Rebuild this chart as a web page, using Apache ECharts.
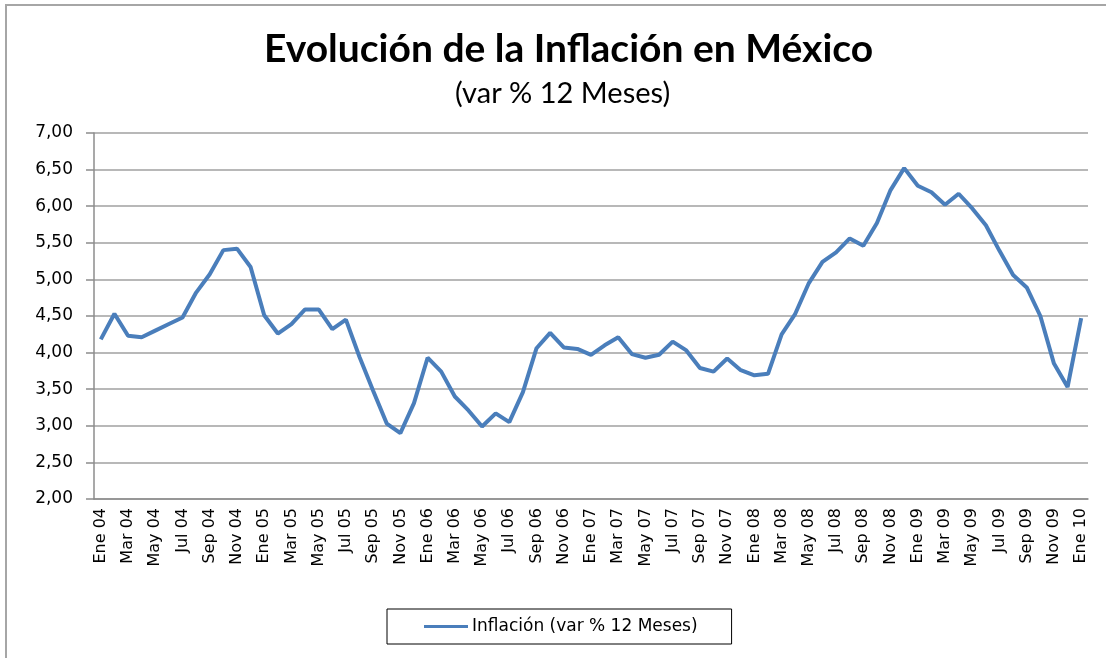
<!DOCTYPE html>
<html>
<head>
<meta charset="utf-8">
<title>Evolución de la Inflación en México</title>
<script src="https://cdn.jsdelivr.net/npm/echarts@6/dist/echarts.min.js"></script>
<style>
  html, body { margin: 0; padding: 0; background: #fff; }
  #chart { width: 1106px; height: 658px; }
</style>
</head>
<body>
<div id="chart"></div>
<script>
// meses y años del eje X
const meses = ["Ene", "Feb", "Mar", "Abr", "May", "Jun", "Jul", "Ago", "Sep", "Oct", "Nov", "Dic"];
const anios = ["04", "05", "06", "07", "08", "09", "10"];

// inflación anual (var % 12 meses), ene 2004 - ene 2010
const inflacion = [
  4.18, 4.53, 4.23, 4.21, 4.30, 4.39, 4.48, 4.82, 5.07, 5.40, 5.42, 5.17,
  4.51, 4.26, 4.39, 4.59, 4.59, 4.32, 4.45, 3.94, 3.48, 3.03, 2.90, 3.31,
  3.93, 3.74, 3.40, 3.21, 2.99, 3.17, 3.05, 3.46, 4.06, 4.27, 4.07, 4.05,
  3.97, 4.10, 4.21, 3.98, 3.93, 3.97, 4.15, 4.03, 3.79, 3.74, 3.92, 3.76,
  3.69, 3.71, 4.25, 4.53, 4.95, 5.24, 5.37, 5.56, 5.46, 5.77, 6.22, 6.52,
  6.28, 6.19, 6.02, 6.17, 5.97, 5.74, 5.39, 5.06, 4.89, 4.50, 3.85, 3.53,
  4.47
];

const yMin = 2, yMax = 7, yPaso = 0.5;

const categorias = [];
for (let i = 0; i < inflacion.length; i++) {
  categorias.push(meses[i % 12] + " " + anios[Math.floor(i / 12)]);
}

const myChart = echarts.init(document.getElementById("chart"));
const option = {
  backgroundColor: "#fff",
  animation: false,
  title: [
    {
      text: "Evolución de la Inflación en México",
      left: 259,
      top: 25,
      textStyle: { fontFamily: "Lato", fontWeight: "bold", fontSize: 39, color: "#000" },
    },
    {
      text: "(var % 12 Meses)",
      left: 450,
      top: 74,
      textStyle: { fontFamily: "Lato", fontWeight: "normal", fontSize: 29, color: "#000" },
    },
  ],
  graphic: [
    {
      // marco del gráfico
      type: "rect",
      shape: { x: 6, y: 5, width: 1200, height: 800 },
      style: { fill: "none", stroke: "#a6a6a6", lineWidth: 2 },
      silent: true,
    },
  ],
  legend: {
    data: ["Inflación (var % 12 Meses)"],
    left: 387,
    top: 609,
    padding: [9, 34, 9, 37],
    borderColor: "#000",
    borderWidth: 1,
    icon: "rect",
    itemWidth: 44,
    itemHeight: 3,
    textStyle: { fontFamily: "DejaVu Sans", fontSize: 17, color: "#000", padding: [0, 0, 0, -1] },
  },
  grid: {
    left: 94,
    right: 18,
    top: 133,
    bottom: 159,
    containLabel: false,
  },
  xAxis: {
    type: "category",
    boundaryGap: true,
    data: categorias,
    axisLine: { lineStyle: { color: "#8c8c8c", width: 1.5 } },
    axisTick: { interval: 0, length: 6, lineStyle: { color: "#8c8c8c", width: 1.5 } },
    axisLabel: {
      interval: 1,
      rotate: 90,
      margin: 9,
      fontFamily: "DejaVu Sans",
      fontSize: 16,
      color: "#000",
    },
  },
  yAxis: {
    type: "value",
    min: yMin,
    max: yMax,
    interval: yPaso,
    axisLine: { show: true, lineStyle: { color: "#8c8c8c", width: 1.5 } },
    axisTick: { show: true, length: 8, lineStyle: { color: "#8c8c8c", width: 1.5 } },
    splitLine: { lineStyle: { color: "#a0a0a0", width: 1.5 } },
    axisLabel: {
      margin: 21,
      fontFamily: "DejaVu Sans",
      fontSize: 17,
      color: "#000",
      formatter: (v) => v.toFixed(2).replace(".", ","),
    },
  },
  series: [
    {
      name: "Inflación (var % 12 Meses)",
      type: "line",
      data: inflacion,
      symbol: "none",
      lineStyle: { color: "#4a7ebb", width: 4 },
      itemStyle: { color: "#4a7ebb" },
    },
  ],
};
myChart.setOption(option);
</script>
</body>
</html>
